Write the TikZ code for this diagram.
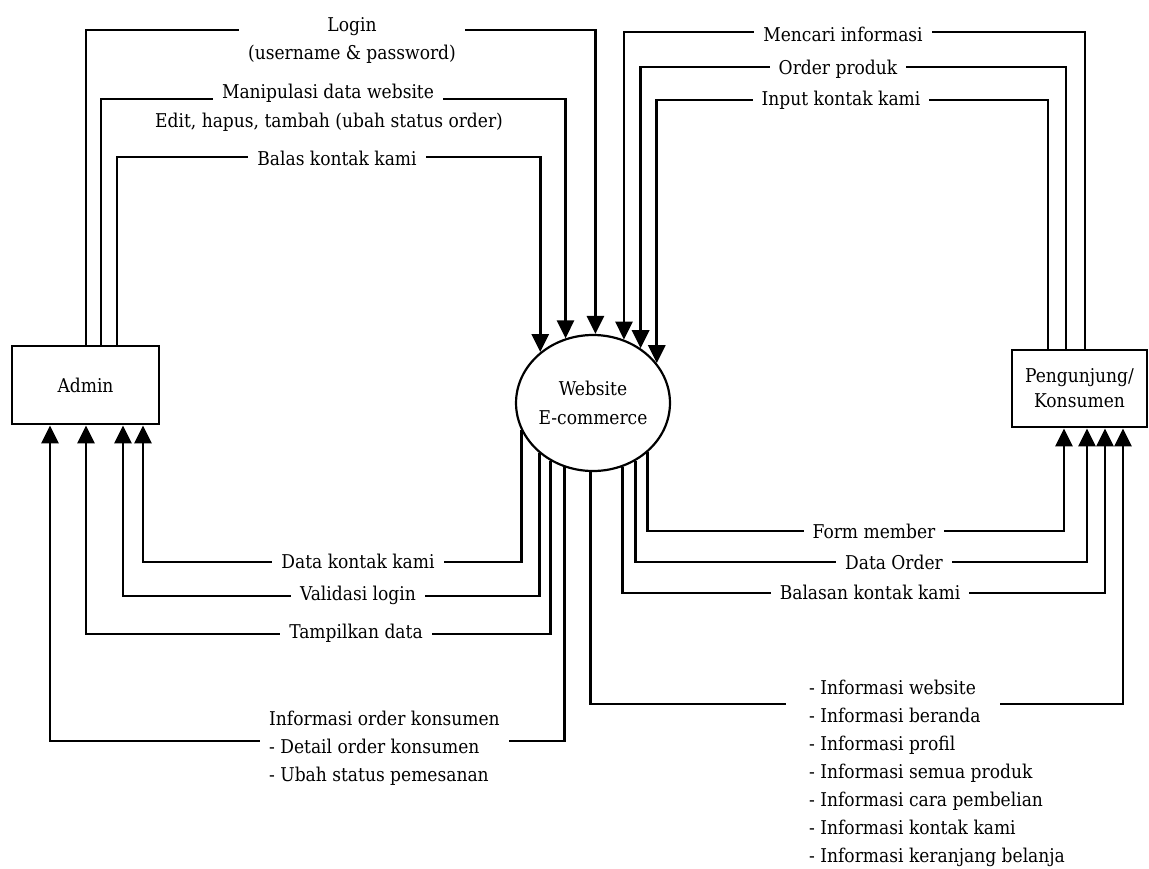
\documentclass[tikz,border=0pt]{standalone}
\usepackage{fontspec}
\setmainfont{DejaVu Serif Condensed}
\usetikzlibrary{arrows.meta,shapes.geometric}
\tikzset{entity/.style={
    % The shape:
    rectangle,
    % The border:
    line width=2.8pt,
    draw=black,
    % Font
    font=\fontsize{19}{25}\selectfont,
    align=center
    },
    process/.style={
    ellipse,
    minimum width=152pt,
    minimum height=136pt,
    inner sep=0pt,
    line width=2.2pt,
    draw=black,
    font=\fontsize{19}{29}\selectfont,
    align=center
    },
    flow/.style={
    line width=2.8pt,
    -{Triangle[length=18pt,width=17pt]},
    },
    lbl/.style={
    fill=white,
    inner xsep=9pt,
    inner ysep=2pt,
    font=\fontsize{19}{28}\selectfont,
    align=center
    },
}

\begin{document}
\begin{tikzpicture}[x=1pt,y=-1pt]
    \useasboundingbox (0,0) rectangle (1149,868);

    \node (admin)   [entity,minimum width=147pt,minimum height=78pt] at (85.5,385) {Admin};
    \node (web)     [process] at (593,403) {Website\\E-commerce};
    \node (visitor) [entity,minimum width=135pt,minimum height=77pt] at (1079.5,388.5) {Pengunjung/\\Konsumen};

    % admin -> website
    \draw[flow] (86,0 |- admin.north) -- (86,30) -| (web.88);
    \draw[flow] (101,0 |- admin.north) -- (101,99) -| (web.113);
    \draw[flow] (117,0 |- admin.north) -- (117,157) -| (web.136);

    % pengunjung -> website
    \draw[flow] (1085,0 |- visitor.north) -- (1085,32) -| (web.64);
    \draw[flow] (1066,0 |- visitor.north) -- (1066,67) -| (web.49);
    \draw[flow] (1048,0 |- visitor.north) -- (1048,100) -| (web.32);

    % website -> admin
    \draw[flow] (web.201) |- (143,562) -- (143,0 |- admin.south);
    \draw[flow] (web.223) |- (123,596) -- (123,0 |- admin.south);
    \draw[flow] (web.234) |- (86,634) -- (86,0 |- admin.south);
    \draw[flow] (web.246) |- (50,741) -- (50,0 |- admin.south);

    % website -> pengunjung
    \draw[flow] (web.318) |- (1064,531) -- (1064,0 |- visitor.south);
    \draw[flow] (web.306) |- (1087,562) -- (1087,0 |- visitor.south);
    \draw[flow] (web.295) |- (1105,593) -- (1105,0 |- visitor.south);
    \draw[flow] (web.268) |- (786,704) (1000,704) -| (1123,0 |- visitor.south);

    % labels
    \node (login)   [lbl] at (352,40)  {Login\\(username \& password)};
    \node (manip)   [lbl] at (328,93)  {Manipulasi data website};
    \node (edit)    [lbl] at (329,122) {Edit, hapus, tambah (ubah status order)};
    \node (balas)   [lbl] at (337,158) {Balas kontak kami};

    \node (mencari) [lbl] at (843,34)  {Mencari informasi};
    \node (order)   [lbl] at (838,69)  {Order produk};
    \node (input)   [lbl] at (841,100) {Input kontak kami};

    \node (dkk)     [lbl] at (358,561) {Data kontak kami};
    \node (valid)   [lbl] at (358,595) {Validasi login};
    \node (tampil)  [lbl] at (356,633) {Tampilkan data};
    \node (infoord) [lbl,anchor=west,align=left] at (260,748)
        {Informasi order konsumen\\- Detail order konsumen\\- Ubah status pemesanan};

    \node (form)    [lbl] at (874,531) {Form member};
    \node (dorder)  [lbl] at (894,562) {Data Order};
    \node (balasan) [lbl] at (870,592) {Balasan kontak kami};
    \node (infoweb) [lbl,fill=none,anchor=west,align=left] at (800,773)
        {- Informasi website\\- Informasi beranda\\- Informasi profil\\- Informasi semua produk\\- Informasi cara pembelian\\- Informasi kontak kami\\- Informasi keranjang belanja};
\end{tikzpicture}
\end{document}
